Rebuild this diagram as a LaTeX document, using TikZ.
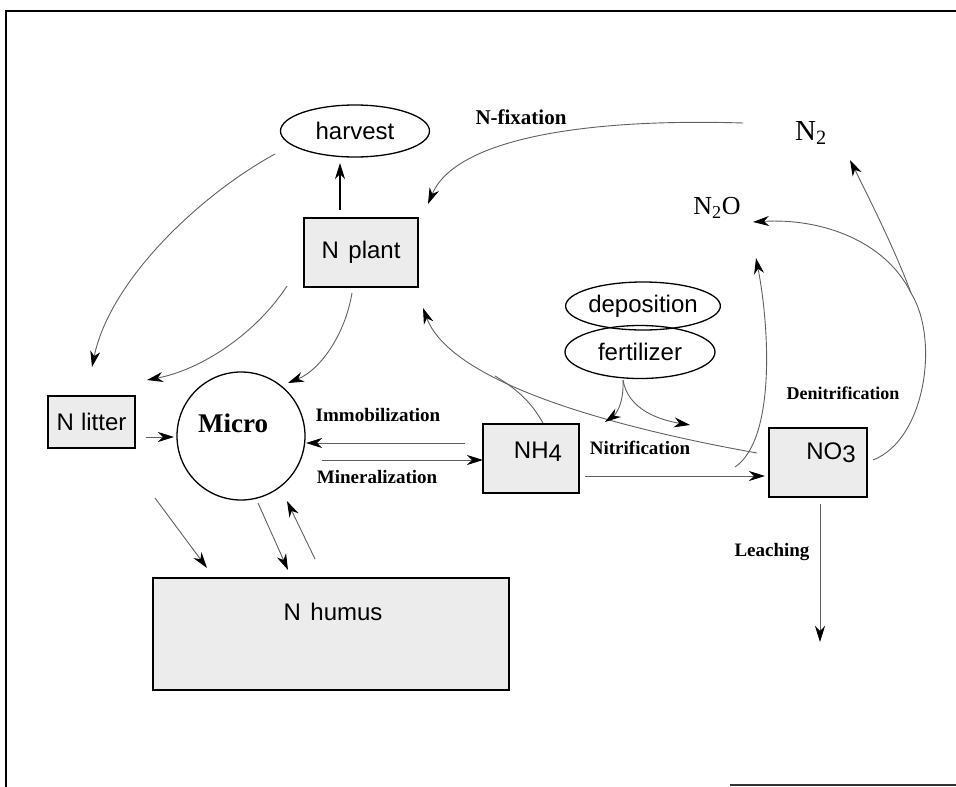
\documentclass[tikz,border=0pt]{standalone}
\usepackage{fontspec}
\setmainfont{Liberation Serif}
\newfontfamily\hv{Liberation Sans}
\usetikzlibrary{shapes.geometric,arrows.meta}
\definecolor{boxgray}{HTML}{ECECEC}
\definecolor{linegray}{HTML}{606060}
\tikzset{
  box/.style={draw=black, line width=1.4pt, fill=boxgray, inner sep=0pt},
  oval/.style={draw=black, ellipse, line width=1.3pt, inner sep=0pt},
  sanslbl/.style={font=\hv\fontsize{24}{28}\selectfont, inner sep=0pt},
  proclbl/.style={font=\bfseries\fontsize{19}{22}\selectfont, inner sep=0pt},
  gaslbl/.style={inner sep=0pt},
  flow/.style={draw=linegray, line width=0.9pt, -{Stealth[length=16pt,width=10pt,inset=5pt,black]}},
  flowplain/.style={draw=linegray, line width=0.9pt},
  strongflow/.style={draw=black, line width=1.5pt, -{Stealth[length=16pt,width=10pt,inset=5pt,black]}}
}
\begin{document}
\begin{tikzpicture}[x=1pt,y=-1pt]
\useasboundingbox (0,0) rectangle (956,787);
% frame
\draw[line width=2pt] (6,787) -- (6,11) -- (956,11);
\draw[line width=1.5pt, draw=black!80] (730,785) -- (956,785);

% nodes
\node[oval, minimum width=149pt, minimum height=52pt, sanslbl] (harvest) at (355,131) {harvest};
\node[box, minimum width=114pt, minimum height=69pt, sanslbl] (nplant) at (361,252.5) {N\hspace{0.4em}plant};
\node[box, minimum width=87pt, minimum height=52pt, sanslbl] (nlitter) at (91.5,422) {N\hspace{0.3em}litter};
\node[draw=black, circle, line width=1.3pt, minimum size=128pt, inner sep=0pt] (micro) at (241,436) {};
\node[font=\bfseries\fontsize{27}{30}\selectfont, inner sep=0pt] (microtxt) at (233,423) {Micro};
\node[box, minimum width=356pt, minimum height=112pt] (nhumus) at (331,634) {};
\node[sanslbl] (nhumustxt) at (333,612) {N\hspace{0.4em}humus};
\node[box, minimum width=96pt, minimum height=69pt] (nh4) at (531,458.5) {};
\node[sanslbl] (nh4txt) at (538,452) {NH\raisebox{-3pt}{4}};
\node[box, minimum width=98pt, minimum height=69pt] (no3) at (818,462.5) {};
\node[sanslbl] (no3txt) at (831,453) {NO\raisebox{-3pt}{3}};
\node[oval, minimum width=148pt, minimum height=48pt, sanslbl] (depo) at (643,306) {deposition};
\node[oval, minimum width=150pt, minimum height=53pt, sanslbl] (fert) at (640,352) {fertilizer};
\node[gaslbl, font=\fontsize{29}{32}\selectfont] (n2) at (811,133) {N\textsubscript{2}};
\node[gaslbl, font=\fontsize{26}{30}\selectfont] (n2o) at (717,208) {N\textsubscript{2}O};

% process labels
\node[font=\bfseries\fontsize{21}{24}\selectfont, inner sep=0pt] (nfixlbl) at (521,117) {N-fixation};
\node[proclbl] (immlbl) at (378,415) {Immobilization};
\node[proclbl] (minlbl) at (377,477) {Mineralization};
\node[proclbl] (nitlbl) at (640,448) {Nitrification};
\node[font=\bfseries\fontsize{18}{21}\selectfont, inner sep=0pt] (denlbl) at (843,393) {Denitrification};
\node[proclbl] (leachlbl) at (772,552) {Leaching};

% connectors
\draw[strongflow] (340,210) -- (340,163);
\draw[flow] (275,154) .. controls (200,195) and (110,280) .. (92,367);
\draw[flow] (287,286) .. controls (255,335) and (200,370) .. (147,380);
\draw[flow] (352,293) .. controls (345,335) and (320,370) .. (288,383);
\draw[flow] (743,123) .. controls (580,118) and (455,140) .. (428,204);
\draw[flow] (757,453) .. controls (600,425) and (450,380) .. (423,308);
\draw[flowplain] (543,423) .. controls (530,400) and (515,388) .. (495,376);
\draw[flow] (735,467) .. controls (775,440) and (770,330) .. (756,258);
\draw[flowplain] (873,460) .. controls (925,440) and (940,340) .. (911,293);
\draw[flow] (911,293) .. controls (895,250) and (870,200) .. (850,160);
\draw[flow] (911,293) .. controls (885,240) and (820,218) .. (753,222);
\draw[flow] (623,380) .. controls (624,405) and (615,415) .. (605,422);
\draw[flow] (623,380) .. controls (628,410) and (660,420) .. (690,425);
\draw[flow] (465,443) -- (306,443);
\draw[flow] (322,460) -- (483,460);
\draw[flow] (585,476) -- (765,476);
\draw[flow] (820,504) -- (820,642);
\draw[flow] (146,437) -- (174,437);
\draw[flow] (155,498) -- (207,568);
\draw[flow] (258,503) -- (288,570);
\draw[flow] (315,559) -- (287,501);
\end{tikzpicture}
\end{document}
